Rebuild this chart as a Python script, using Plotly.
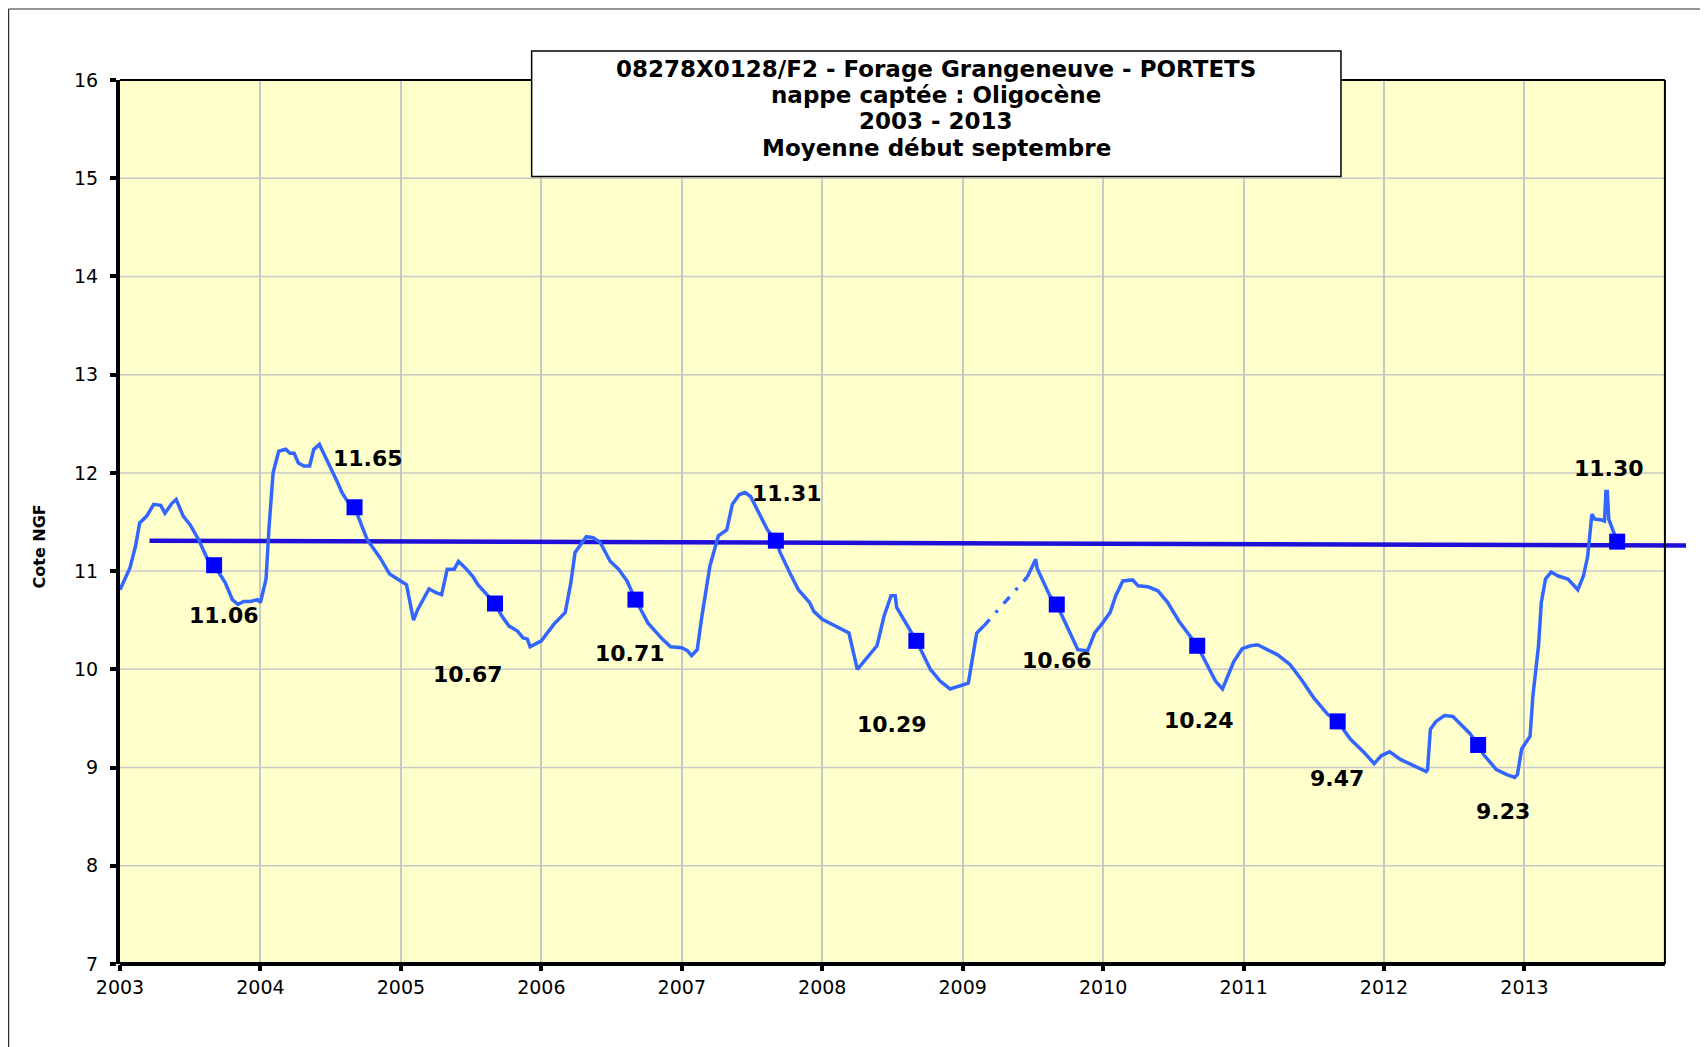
import plotly.graph_objects as go

# ---------------- data ----------------
# continuous water level record (decimal year, Cote NGF); None = gap in record
level_x = [2003.00, 2003.07, 2003.11, 2003.14, 2003.19, 2003.24, 2003.29, 2003.32, 2003.37, 2003.40,
           2003.45, 2003.50, 2003.56, 2003.60, 2003.63, 2003.67, 2003.75, 2003.80, 2003.84, 2003.88,
           2003.93, 2003.98, 2004.00, 2004.04, 2004.06, 2004.09, 2004.13, 2004.18, 2004.21, 2004.24,
           2004.27, 2004.31, 2004.35, 2004.38, 2004.42, 2004.46, 2004.51, 2004.55, 2004.58, 2004.62,
           2004.67, 2004.76, 2004.85, 2004.92, 2005.02, 2005.04, 2005.09, 2005.12, 2005.20, 2005.25,
           2005.29, 2005.33, 2005.38, 2005.41, 2005.46, 2005.51, 2005.55, 2005.60, 2005.67, 2005.72,
           2005.77, 2005.83, 2005.87, 2005.90, 2005.92, 2006.00, 2006.09, 2006.17, 2006.21, 2006.24,
           2006.28, 2006.32, 2006.37, 2006.42, 2006.49, 2006.55, 2006.61, 2006.67, 2006.76, 2006.86,
           2006.92, 2007.00, 2007.04, 2007.07, 2007.11, 2007.14, 2007.20, 2007.26, 2007.32, 2007.36,
           2007.41, 2007.45, 2007.49, 2007.55, 2007.61, 2007.67, 2007.70, 2007.77, 2007.83, 2007.91,
           2007.94, 2008.00, 2008.19, 2008.25, 2008.39, 2008.44, 2008.49, 2008.52, 2008.53, 2008.67,
           2008.77, 2008.84, 2008.91, 2009.04, 2009.10, 2009.15, None, 2009.46, 2009.52, 2009.53,
           2009.62, 2009.67, 2009.75, 2009.82, 2009.89, 2009.94, 2009.99, 2010.05, 2010.09, 2010.14,
           2010.21, 2010.25, 2010.32, 2010.39, 2010.46, 2010.54, 2010.67, 2010.75, 2010.80, 2010.85,
           2010.89, 2010.93, 2010.99, 2011.05, 2011.10, 2011.17, 2011.24, 2011.33, 2011.41, 2011.50,
           2011.60, 2011.67, 2011.76, 2011.86, 2011.93, 2011.98, 2012.04, 2012.12, 2012.19, 2012.30,
           2012.31, 2012.33, 2012.37, 2012.43, 2012.49, 2012.55, 2012.61, 2012.67, 2012.71, 2012.80,
           2012.87, 2012.93, 2012.95, 2012.98, 2013.04, 2013.06, 2013.10, 2013.12, 2013.15, 2013.19,
           2013.24, 2013.31, 2013.38, 2013.42, 2013.45, 2013.48, 2013.50, 2013.55, 2013.57, 2013.58,
           2013.59, 2013.60, 2013.63, 2013.66]
level_y = [10.81, 11.03, 11.25, 11.49, 11.56, 11.68, 11.67, 11.59, 11.69, 11.73,
           11.56, 11.47, 11.32, 11.19, 11.10, 11.06, 10.88, 10.71, 10.66, 10.69,
           10.69, 10.71, 10.68, 10.92, 11.42, 12.00, 12.22, 12.24, 12.20, 12.20,
           12.10, 12.07, 12.07, 12.24, 12.29, 12.17, 12.03, 11.90, 11.80, 11.71,
           11.65, 11.32, 11.14, 10.97, 10.88, 10.86, 10.50, 10.61, 10.82, 10.78,
           10.76, 11.02, 11.02, 11.10, 11.03, 10.95, 10.86, 10.78, 10.67, 10.54,
           10.44, 10.39, 10.32, 10.31, 10.23, 10.29, 10.46, 10.58, 10.88, 11.19,
           11.27, 11.35, 11.34, 11.29, 11.10, 11.02, 10.90, 10.71, 10.47, 10.31,
           10.23, 10.22, 10.19, 10.14, 10.20, 10.51, 11.05, 11.36, 11.42, 11.68,
           11.78, 11.80, 11.76, 11.59, 11.42, 11.31, 11.19, 10.98, 10.81, 10.68,
           10.59, 10.51, 10.37, 10.00, 10.24, 10.54, 10.75, 10.75, 10.63, 10.29,
           10.00, 9.88, 9.80, 9.86, 10.37, 10.44, None, 10.94, 11.12, 11.03,
           10.75, 10.66, 10.41, 10.20, 10.19, 10.37, 10.46, 10.58, 10.75, 10.90,
           10.91, 10.85, 10.84, 10.80, 10.68, 10.49, 10.24, 10.02, 9.88, 9.80,
           9.95, 10.08, 10.21, 10.24, 10.25, 10.20, 10.15, 10.05, 9.90, 9.71,
           9.54, 9.47, 9.29, 9.15, 9.04, 9.12, 9.16, 9.08, 9.03, 8.96,
           8.98, 9.39, 9.47, 9.53, 9.52, 9.44, 9.35, 9.23, 9.13, 8.98,
           8.93, 8.90, 8.93, 9.19, 9.32, 9.73, 10.24, 10.68, 10.92, 10.99,
           10.95, 10.92, 10.81, 10.95, 11.15, 11.58, 11.53, 11.52, 11.51, 11.81,
           11.81, 11.53, 11.42, 11.30]

# interpolated stretch (missing measurements), drawn dashed
gap_x = [2009.15, 2009.46]
gap_y = [10.44, 10.94]

# early-September means
sept_x = [2003.67, 2004.67, 2005.67, 2006.67, 2007.67, 2008.67, 2009.67, 2010.67, 2011.67, 2012.67, 2013.66]
sept_y = [11.06, 11.65, 10.67, 10.71, 11.31, 10.29, 10.66, 10.24, 9.47, 9.23, 11.30]

# trend line
trend_x = [2003.21, 2014.15]
trend_y = [11.31, 11.26]

year_ticks = [2003, 2004, 2005, 2006, 2007, 2008, 2009, 2010, 2011, 2012, 2013]
level_ticks = [7, 8, 9, 10, 11, 12, 13, 14, 15, 16]

title_lines = ["08278X0128/F2 - Forage Grangeneuve - PORTETS",
               "nappe captée : Oligocène",
               "2003 - 2013",
               "Moyenne début septembre"]
y_title = "Cote NGF"

# ---------------- style / layout ----------------
X_END = 2014.0      # right edge of the yellow plot frame
X_MAX = 2014.2      # axis extent (lets the trend line overshoot the frame)
LINE_BLUE = "#3366ff"
TREND_BLUE = "#1e10d8"
MARK_BLUE = "#0000ff"
BG_YELLOW = "#ffffcc"
GRID = "#c8c8c8"

# label offsets (pixels) relative to each September marker
label_dx = [10, 13, -27, -5, 11, -24, 0, 2, -1, 25, -8]
label_dy = [-50, 49, -71, -54, 47, -84, -56, -75, -57, -67, 73]

fig = go.Figure()

fig.add_trace(go.Scatter(x=trend_x, y=trend_y, mode="lines",
                         line=dict(color=TREND_BLUE, width=4.5), hoverinfo="skip"))
fig.add_trace(go.Scatter(x=level_x, y=level_y, mode="lines", connectgaps=False,
                         line=dict(color=LINE_BLUE, width=3.5)))
fig.add_trace(go.Scatter(x=gap_x, y=gap_y, mode="lines",
                         line=dict(color=LINE_BLUE, width=3.5, dash="9px,9px,3px,9px")))
fig.add_trace(go.Scatter(x=sept_x, y=sept_y, mode="markers",
                         marker=dict(symbol="square", size=16, color=MARK_BLUE)))

for xv, yv, dx, dy in zip(sept_x, sept_y, label_dx, label_dy):
    fig.add_annotation(x=xv, y=yv, xref="x", yref="y", text=f"{yv:.2f}", showarrow=False,
                       xshift=dx, yshift=dy,
                       font=dict(family="DejaVu Sans", size=22, color="black", weight="bold"))

shapes = [
    # yellow plot area
    dict(type="rect", xref="x", yref="y domain", x0=year_ticks[0], x1=X_END, y0=0, y1=1,
         fillcolor=BG_YELLOW, line=dict(width=0), layer="below"),
]
# horizontal gridlines, limited to the framed area
for lv in level_ticks:
    shapes.append(dict(type="line", xref="x", yref="y", x0=year_ticks[0], x1=X_END, y0=lv, y1=lv,
                       line=dict(color=GRID, width=1.5), layer="below"))
shapes += [
    # bottom axis line
    dict(type="line", xref="x", yref="y domain", x0=year_ticks[0], x1=X_END, y0=0, y1=0,
         line=dict(color="black", width=4), layer="above"),
    # top and right frame
    dict(type="line", xref="x", yref="y domain", x0=year_ticks[0], x1=X_END, y0=1, y1=1,
         line=dict(color="black", width=2), layer="above"),
    dict(type="line", xref="x", yref="y domain", x0=X_END, x1=X_END, y0=0, y1=1,
         line=dict(color="black", width=2), layer="above"),
    # title box
    dict(type="rect", xref="paper", yref="paper", x0=0.2617, x1=0.7762, y0=0.8908, y1=1.0328,
         fillcolor="white", line=dict(color="black", width=1.5), layer="above"),
    # outer chart frame (top and left edges)
    dict(type="line", xref="paper", yref="paper", x0=-0.0709, x1=1.2, y0=1.0803, y1=1.0803,
         line=dict(color="#707070", width=1.5)),
    dict(type="line", xref="paper", yref="paper", x0=-0.0709, x1=-0.0709, y0=1.0803, y1=-0.2,
         line=dict(color="#303030", width=1.5)),
]

TITLE_X = 0.5188
TITLE_Y0 = 1.0123
TITLE_DY = 0.0296
for i, line in enumerate(title_lines):
    fig.add_annotation(xref="paper", yref="paper", x=TITLE_X, y=TITLE_Y0 - i * TITLE_DY,
                       xanchor="center", yanchor="middle", text=line, showarrow=False,
                       font=dict(family="DejaVu Sans", size=23, color="black", weight="bold"))

fig.add_annotation(xref="paper", yref="y", x=-0.0509, y=11.25, text=y_title, textangle=-90,
                   showarrow=False, xanchor="center", yanchor="middle",
                   font=dict(family="DejaVu Sans", size=16, color="black", weight="bold"))

# page body has an 8px margin: shrink figure by 8px and offset margins accordingly
fig.update_layout(
    width=1700, height=1039,
    margin=dict(l=112, r=15, t=72, b=83, autoexpand=False),
    paper_bgcolor="white", plot_bgcolor="white",
    showlegend=False,
    shapes=shapes,
    font=dict(family="DejaVu Sans", color="black"),
)
fig.update_xaxes(range=[year_ticks[0], X_MAX], tickvals=year_ticks, ticktext=[str(t) for t in year_ticks],
                 showgrid=True, gridcolor=GRID, gridwidth=1.5, zeroline=False, showline=False,
                 ticks="outside", ticklen=6, tickwidth=4, tickcolor="black", automargin=False,
                 tickfont=dict(size=19, family="DejaVu Sans", color="black"))
fig.update_yaxes(range=[level_ticks[0], level_ticks[-1]], tickvals=level_ticks,
                 showgrid=False, zeroline=False, automargin=False,
                 showline=True, linecolor="black", linewidth=4,
                 ticks="outside", ticklen=6, tickwidth=4, tickcolor="black", ticklabelstandoff=8,
                 tickfont=dict(size=19, family="DejaVu Sans", color="black"))

fig.write_html("out.html")
